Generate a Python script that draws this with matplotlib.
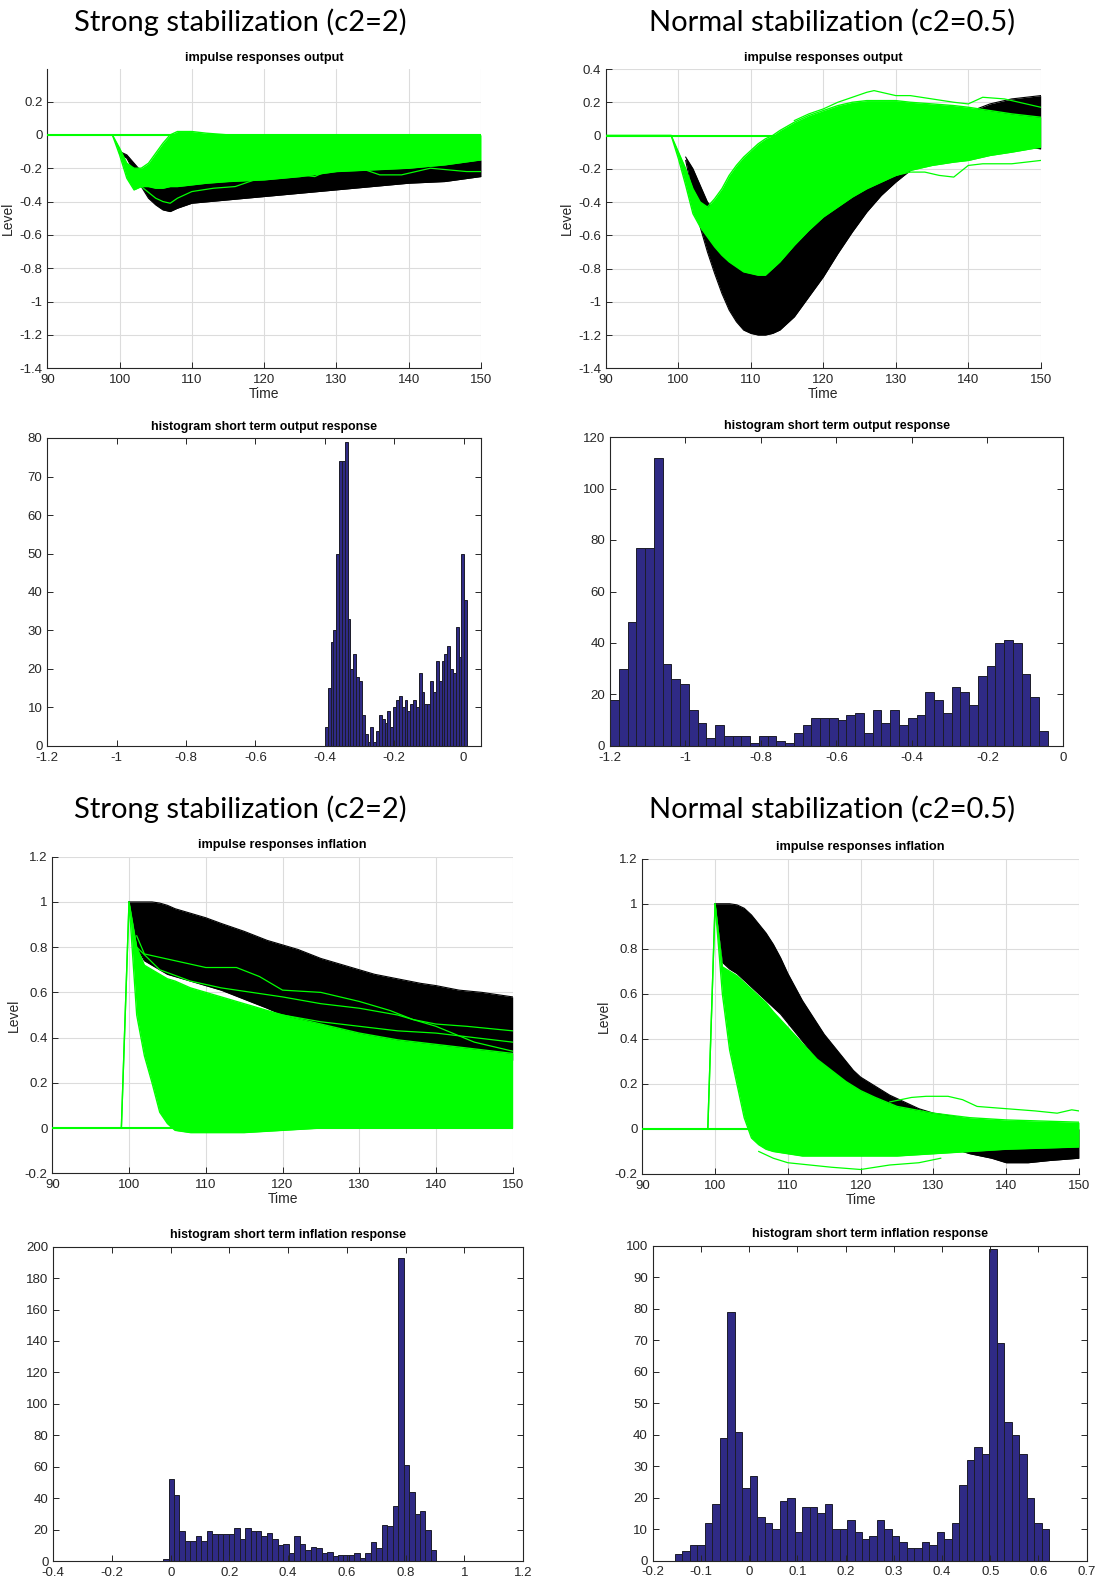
# -*- coding:utf-8 -*-
import numpy as np
import matplotlib
matplotlib.use('Agg')
from matplotlib import pyplot as plt
from matplotlib.ticker import FuncFormatter

# ---------------- impulse responses output, strong stabilization ----------------
t_os_black = [100, 101, 102, 103, 104, 105, 106, 107, 108, 110, 115, 120, 125, 130, 135, 140, 145, 150]
hi_os_black = [-0.10, -0.12, -0.17, -0.22, -0.25, -0.27, -0.28, -0.29, -0.29, -0.29, -0.27, -0.25, -0.23,
               -0.21, -0.19, -0.18, -0.17, -0.15]
lo_os_black = [-0.11, -0.14, -0.22, -0.31, -0.38, -0.42, -0.45, -0.46, -0.44, -0.41, -0.39, -0.37, -0.35,
               -0.33, -0.31, -0.29, -0.28, -0.25]
t_os_green = [90, 99, 100, 101, 102, 103, 104, 105, 106, 107, 108, 110, 112, 115, 120, 125, 130, 135, 140, 145, 150]
hi_os_green = [0, 0, -0.08, -0.17, -0.2, -0.2, -0.17, -0.11, -0.05, 0.0, 0.02, 0.02, 0.01, 0.0,
               0, 0, 0, 0, 0, 0, 0]
lo_os_green = [0, 0, -0.12, -0.26, -0.33, -0.31, -0.31, -0.32, -0.32, -0.31, -0.31, -0.30, -0.29, -0.28,
               -0.27, -0.25, -0.22, -0.21, -0.2, -0.18, -0.15]
t_os_extra = [103, 105, 106, 107, 108, 110, 113, 116, 118, 120, 125, 127, 129, 134, 136, 139, 141, 143, 148, 150]
y_os_extra = [-0.31, -0.38, -0.40, -0.41, -0.38, -0.34, -0.32, -0.31, -0.28, -0.25, -0.24, -0.25, -0.21,
              -0.21, -0.24, -0.24, -0.22, -0.20, -0.22, -0.22]

# ---------------- impulse responses output, normal stabilization ----------------
t_on_black = [101, 102, 103, 104, 105, 106, 107, 108, 109, 110, 111, 112, 113, 114, 116, 118, 120, 122, 124,
              126, 128, 130, 132, 135, 138, 140, 143, 146, 150]
hi_on_black = [-0.13, -0.2, -0.3, -0.4, -0.45, -0.5, -0.5, -0.5, -0.5, -0.5, -0.48, -0.45, -0.42, -0.38, -0.3,
               -0.24, -0.18, -0.13, -0.1, -0.08, -0.06, -0.03, 0.0, 0.04, 0.1, 0.14, 0.19, 0.22, 0.24]
lo_on_black = [-0.15, -0.36, -0.55, -0.7, -0.83, -0.95, -1.05, -1.12, -1.17, -1.19, -1.2, -1.2, -1.19, -1.17,
               -1.09, -0.97, -0.85, -0.71, -0.58, -0.46, -0.36, -0.28, -0.21, -0.13, -0.08, -0.06, -0.05,
               -0.06, -0.08]
t_on_green = [90, 99, 100, 101, 102, 103, 104, 105, 106, 107, 108, 109, 110, 111, 112, 113, 114, 116, 118, 120,
              122, 124, 126, 128, 130, 132, 135, 138, 140, 143, 146, 150]
hi_on_green = [0, 0, -0.1, -0.2, -0.32, -0.4, -0.43, -0.38, -0.32, -0.24, -0.18, -0.13, -0.09, -0.05, -0.02,
               0.0, 0.03, 0.08, 0.12, 0.15, 0.18, 0.2, 0.21, 0.21, 0.21, 0.2, 0.19, 0.18, 0.17, 0.15, 0.13, 0.11]
lo_on_green = [0, 0, -0.14, -0.3, -0.47, -0.55, -0.61, -0.67, -0.72, -0.76, -0.79, -0.82, -0.83, -0.84, -0.84,
               -0.8, -0.76, -0.66, -0.57, -0.49, -0.43, -0.37, -0.32, -0.28, -0.24, -0.21, -0.18, -0.16,
               -0.15, -0.12, -0.1, -0.07]
t_on_extra_top = [116, 118, 120, 122, 124, 126, 127, 128, 130, 132, 135, 138, 140, 142, 145, 148, 150]
y_on_extra_top = [0.09, 0.13, 0.16, 0.2, 0.23, 0.26, 0.27, 0.26, 0.24, 0.24, 0.22, 0.2, 0.19, 0.23, 0.22,
                  0.19, 0.17]
t_on_extra_bot = [126, 128, 130, 132, 134, 136, 138, 140, 142, 144, 146, 148, 150]
y_on_extra_bot = [-0.3, -0.27, -0.24, -0.22, -0.22, -0.24, -0.25, -0.18, -0.17, -0.17, -0.17, -0.16, -0.15]

# ---------------- impulse responses inflation, strong stabilization ----------------
t_is_black = [100, 101, 102, 103, 104, 105, 106, 108, 110, 112, 115, 118, 120, 122, 125, 128, 130, 132, 135,
              138, 140, 143, 146, 150]
hi_is_black = [1.0, 1.0, 1.0, 1.0, 0.995, 0.985, 0.97, 0.95, 0.93, 0.905, 0.87, 0.83, 0.81, 0.79, 0.75, 0.72,
               0.70, 0.68, 0.66, 0.64, 0.63, 0.61, 0.6, 0.58]
lo_is_black = [1.0, 0.8, 0.74, 0.72, 0.7, 0.68, 0.67, 0.65, 0.63, 0.61, 0.57, 0.53, 0.5, 0.48, 0.46, 0.43,
               0.41, 0.4, 0.38, 0.36, 0.34, 0.33, 0.32, 0.30]
t_is_green = [90, 99, 100, 101, 102, 103, 104, 105, 106, 108, 110, 115, 120, 125, 130, 135, 140, 145, 150]
hi_is_green = [0, 0, 1.0, 0.8, 0.72, 0.7, 0.68, 0.66, 0.65, 0.62, 0.6, 0.55, 0.5, 0.46, 0.42, 0.39, 0.37,
               0.35, 0.33]
lo_is_green = [0, 0, 1.0, 0.5, 0.32, 0.2, 0.07, 0.02, -0.01, -0.02, -0.02, -0.02, -0.01, 0, 0, 0, 0, 0, 0]
t_is_extra_a = [101, 102, 106, 110, 114, 117, 120, 125, 130, 134, 137, 140, 144, 150]
y_is_extra_a = [0.85, 0.77, 0.74, 0.71, 0.71, 0.67, 0.61, 0.6, 0.56, 0.52, 0.48, 0.46, 0.45, 0.43]
t_is_extra_b = [101, 104, 108, 112, 116, 120, 125, 130, 135, 140, 145, 150]
y_is_extra_b = [0.8, 0.7, 0.65, 0.62, 0.6, 0.58, 0.55, 0.53, 0.5, 0.45, 0.38, 0.34]
t_is_extra_c = [110, 115, 120, 125, 130, 135, 140, 145, 150]
y_is_extra_c = [0.58, 0.54, 0.5, 0.47, 0.45, 0.43, 0.42, 0.4, 0.38]

# ---------------- impulse responses inflation, normal stabilization ----------------
t_in_black = [100, 101, 102, 103, 104, 105, 106, 107, 108, 109, 110, 111, 112, 113, 114, 115, 116, 117, 118,
              119, 120, 122, 124, 126, 128, 130, 132, 135, 138, 140, 143, 146, 150]
hi_in_black = [1.0, 1.0, 1.0, 0.995, 0.98, 0.95, 0.91, 0.87, 0.82, 0.76, 0.69, 0.63, 0.57, 0.52, 0.47, 0.42,
               0.38, 0.34, 0.3, 0.26, 0.23, 0.19, 0.15, 0.12, 0.09, 0.07, 0.06, 0.04, 0.03, 0.02, 0.02, 0.01, 0.0]
lo_in_black = [1.0, 0.74, 0.71, 0.69, 0.66, 0.63, 0.6, 0.57, 0.54, 0.51, 0.47, 0.43, 0.39, 0.35, 0.31, 0.28,
               0.25, 0.22, 0.19, 0.17, 0.15, 0.1, 0.06, 0.02, -0.02, -0.05, -0.08, -0.11, -0.13, -0.15, -0.15,
               -0.14, -0.13]
t_in_green = [90, 99, 100, 101, 102, 103, 104, 105, 106, 107, 108, 110, 112, 114, 116, 118, 120, 122, 125, 130,
              135, 140, 145, 150]
hi_in_green = [0, 0, 1.0, 0.72, 0.7, 0.68, 0.65, 0.62, 0.59, 0.56, 0.52, 0.45, 0.38, 0.31, 0.26, 0.21, 0.17,
               0.14, 0.1, 0.07, 0.05, 0.04, 0.035, 0.03]
lo_in_green = [0, 0, 1.0, 0.6, 0.35, 0.2, 0.05, -0.04, -0.07, -0.09, -0.1, -0.11, -0.12, -0.12, -0.12, -0.12,
               -0.12, -0.12, -0.12, -0.11, -0.1, -0.09, -0.085, -0.08]
t_in_extra_top = [124, 127, 129, 132, 134, 136, 140, 144, 147, 149, 150]
y_in_extra_top = [0.12, 0.14, 0.145, 0.145, 0.13, 0.1, 0.09, 0.08, 0.07, 0.085, 0.08]
t_in_extra_bot = [106, 108, 110, 113, 116, 120, 124, 128, 131]
y_in_extra_bot = [-0.1, -0.13, -0.15, -0.16, -0.17, -0.18, -0.16, -0.15, -0.13]

t_base = [90, 150]
y_base = [0, 0]

# ---------------- histograms (50 bins each) ----------------
hist_os_range = (-0.4, 0.01)
hist_os_counts = [5, 15, 27, 30, 50, 74, 74, 79, 33, 20,
                  24, 18, 17, 8, 3, 1, 5, 1, 4, 8,
                  7, 6, 9, 5, 10, 12, 13, 10, 12, 9,
                  11, 12, 10, 19, 14, 11, 11, 17, 14, 22,
                  17, 22, 24, 26, 20, 19, 31, 23, 50, 38]
hist_on_range = (-1.2, -0.04)
hist_on_counts = [18, 30, 48, 77, 77, 112, 32, 26, 24, 14,
                  9, 3, 8, 4, 4, 4, 1, 4, 4, 2,
                  1, 5, 8, 11, 11, 11, 10, 12, 13, 5,
                  14, 9, 14, 8, 11, 12, 21, 18, 13, 23,
                  21, 16, 27, 31, 40, 41, 40, 28, 19, 6]
hist_is_range = (-0.026, 0.905)
hist_is_counts = [1, 52, 42, 19, 13, 13, 16, 13, 19, 17,
                  17, 17, 17, 21, 14, 21, 19, 19, 16, 18,
                  14, 10, 11, 5, 16, 11, 7, 9, 8, 5,
                  6, 3, 4, 4, 4, 5, 2, 5, 12, 8,
                  23, 22, 35, 193, 61, 44, 30, 32, 20, 7]
hist_in_range = (-0.154, 0.622)
hist_in_counts = [2, 3, 5, 5, 12, 18, 39, 79, 41, 23,
                  27, 14, 12, 10, 19, 20, 9, 17, 17, 15,
                  18, 10, 10, 13, 9, 7, 8, 13, 10, 8,
                  6, 4, 4, 6, 5, 9, 7, 12, 24, 32,
                  36, 34, 99, 69, 44, 40, 34, 20, 12, 10]

GREEN = '#00ff00'
BAR_FACE = '#2f2a85'
BAR_EDGE = '#1c1c2a'
AX_COLOR = '#262626'

plt.rcParams['font.family'] = ['Liberation Sans', 'DejaVu Sans']

W, H = 1097, 1582
fig = plt.figure(figsize=(W / 100, H / 100), dpi=100)


def box(l, t, r, b):
    """pixel box -> figure fraction"""
    return [l / W, 1 - b / H, (r - l) / W, (b - t) / H]


def tick_text(v, pos):
    v = round(v, 6)
    if v == 0:
        v = 0.0
    return '%g' % v


fmt = FuncFormatter(tick_text)


def style_axes(ax, title, title_size):
    for s in ax.spines.values():
        s.set_color(AX_COLOR)
        s.set_linewidth(0.8)
    ax.tick_params(direction='in', length=4, width=0.7, colors=AX_COLOR, labelsize=9.5)
    ax.tick_params(axis='x', pad=4)
    ax.xaxis.set_major_formatter(fmt)
    ax.yaxis.set_major_formatter(fmt)
    ax.set_title(title, fontsize=title_size, fontweight='bold', color='black', pad=6)


def draw_irf(ax, title, black, green, extras, ylim, yticks):
    """impulse responses: black band, green band on top"""
    t_b, hi_b, lo_b = black
    ax.fill_between(t_b, lo_b, hi_b, color='black', lw=0, zorder=2)
    ax.plot(t_b, hi_b, color='black', lw=0.8, zorder=2)
    ax.plot(t_b, lo_b, color='black', lw=0.8, zorder=2)
    t_g, hi_g, lo_g = green
    ax.fill_between(t_g, lo_g, hi_g, color=GREEN, lw=0, zorder=3)
    ax.plot(t_g, hi_g, color=GREEN, lw=1.0, zorder=3)
    ax.plot(t_g, lo_g, color=GREEN, lw=1.0, zorder=3)
    for tx, ty in extras:
        ax.plot(tx, ty, color=GREEN, lw=0.9, zorder=4)
    ax.plot(t_base, y_base, color=GREEN, lw=1.5, zorder=3)

    ax.set_xlim(90, 150)
    ax.set_xticks(range(90, 151, 10))
    ax.set_ylim(*ylim)
    ax.set_yticks(yticks)
    ax.grid(True, color='#dcdcdc', lw=0.8)
    ax.set_axisbelow(True)
    ax.spines['top'].set_visible(False)
    ax.spines['right'].set_visible(False)
    style_axes(ax, title, 9.2)
    ax.set_xlabel('Time', fontsize=10, color=AX_COLOR, labelpad=1)
    ax.set_ylabel('Level', fontsize=10, color=AX_COLOR, labelpad=3)


def draw_hist(ax, title, counts, rng, xlim, xticks, ylim, yticks):
    edges = np.linspace(rng[0], rng[1], len(counts) + 1)
    ax.bar(edges[:-1], counts, width=np.diff(edges), align='edge',
           color=BAR_FACE, edgecolor=BAR_EDGE, linewidth=0.7)
    ax.set_xlim(*xlim)
    ax.set_xticks(xticks)
    ax.set_ylim(*ylim)
    ax.set_yticks(yticks)
    ax.tick_params(top=True, right=True)
    style_axes(ax, title, 8.9)


ax1 = fig.add_axes(box(47.3, 69, 481, 368.3))
draw_irf(ax1, 'impulse responses output',
         (t_os_black, hi_os_black, lo_os_black),
         (t_os_green, hi_os_green, lo_os_green),
         [(t_os_extra, y_os_extra)],
         (-1.4, 0.395), np.arange(-1.4, 0.21, 0.2))

ax2 = fig.add_axes(box(606, 69, 1040.7, 368.3))
draw_irf(ax2, 'impulse responses output',
         (t_on_black, hi_on_black, lo_on_black),
         (t_on_green, hi_on_green, lo_on_green),
         [(t_on_extra_top, y_on_extra_top), (t_on_extra_bot, y_on_extra_bot)],
         (-1.4, 0.4), np.arange(-1.4, 0.41, 0.2))

ax3 = fig.add_axes(box(47.3, 438, 481, 746))
draw_hist(ax3, 'histogram short term output response', hist_os_counts, hist_os_range,
          (-1.2, 0.05), np.arange(-1.2, 0.01, 0.2), (0, 80), range(0, 81, 10))

ax4 = fig.add_axes(box(610, 437, 1063, 746))
draw_hist(ax4, 'histogram short term output response', hist_on_counts, hist_on_range,
          (-1.2, 0), np.arange(-1.2, 0.01, 0.2), (0, 120), range(0, 121, 20))

ax5 = fig.add_axes(box(52.3, 856.7, 512.7, 1173.3))
draw_irf(ax5, 'impulse responses inflation',
         (t_is_black, hi_is_black, lo_is_black),
         (t_is_green, hi_is_green, lo_is_green),
         [(t_is_extra_a, y_is_extra_a), (t_is_extra_b, y_is_extra_b), (t_is_extra_c, y_is_extra_c)],
         (-0.2, 1.2), np.arange(-0.2, 1.21, 0.2))

ax6 = fig.add_axes(box(642.3, 858.7, 1079, 1174))
draw_irf(ax6, 'impulse responses inflation',
         (t_in_black, hi_in_black, lo_in_black),
         (t_in_green, hi_in_green, lo_in_green),
         [(t_in_extra_top, y_in_extra_top), (t_in_extra_bot, y_in_extra_bot)],
         (-0.2, 1.2), np.arange(-0.2, 1.21, 0.2))

ax7 = fig.add_axes(box(53.3, 1246.7, 523, 1561))
draw_hist(ax7, 'histogram short term inflation response', hist_is_counts, hist_is_range,
          (-0.4, 1.2), np.arange(-0.4, 1.21, 0.2), (0, 200), range(0, 201, 20))

ax8 = fig.add_axes(box(652.7, 1245.7, 1086.7, 1560.7))
draw_hist(ax8, 'histogram short term inflation response', hist_in_counts, hist_in_range,
          (-0.2, 0.7), np.arange(-0.2, 0.71, 0.1), (0, 100), range(0, 101, 10))

# headers above each pair of rows
for y in (22, 809):
    fig.text(240 / W, 1 - y / H, 'Strong stabilization (c2=2)', ha='center', va='center',
             fontsize=21, family=['Lato', 'DejaVu Sans'])
    fig.text(832 / W, 1 - y / H, 'Normal stabilization (c2=0.5)', ha='center', va='center',
             fontsize=21, family=['Lato', 'DejaVu Sans'])

fig.savefig('out.png', dpi=100)
